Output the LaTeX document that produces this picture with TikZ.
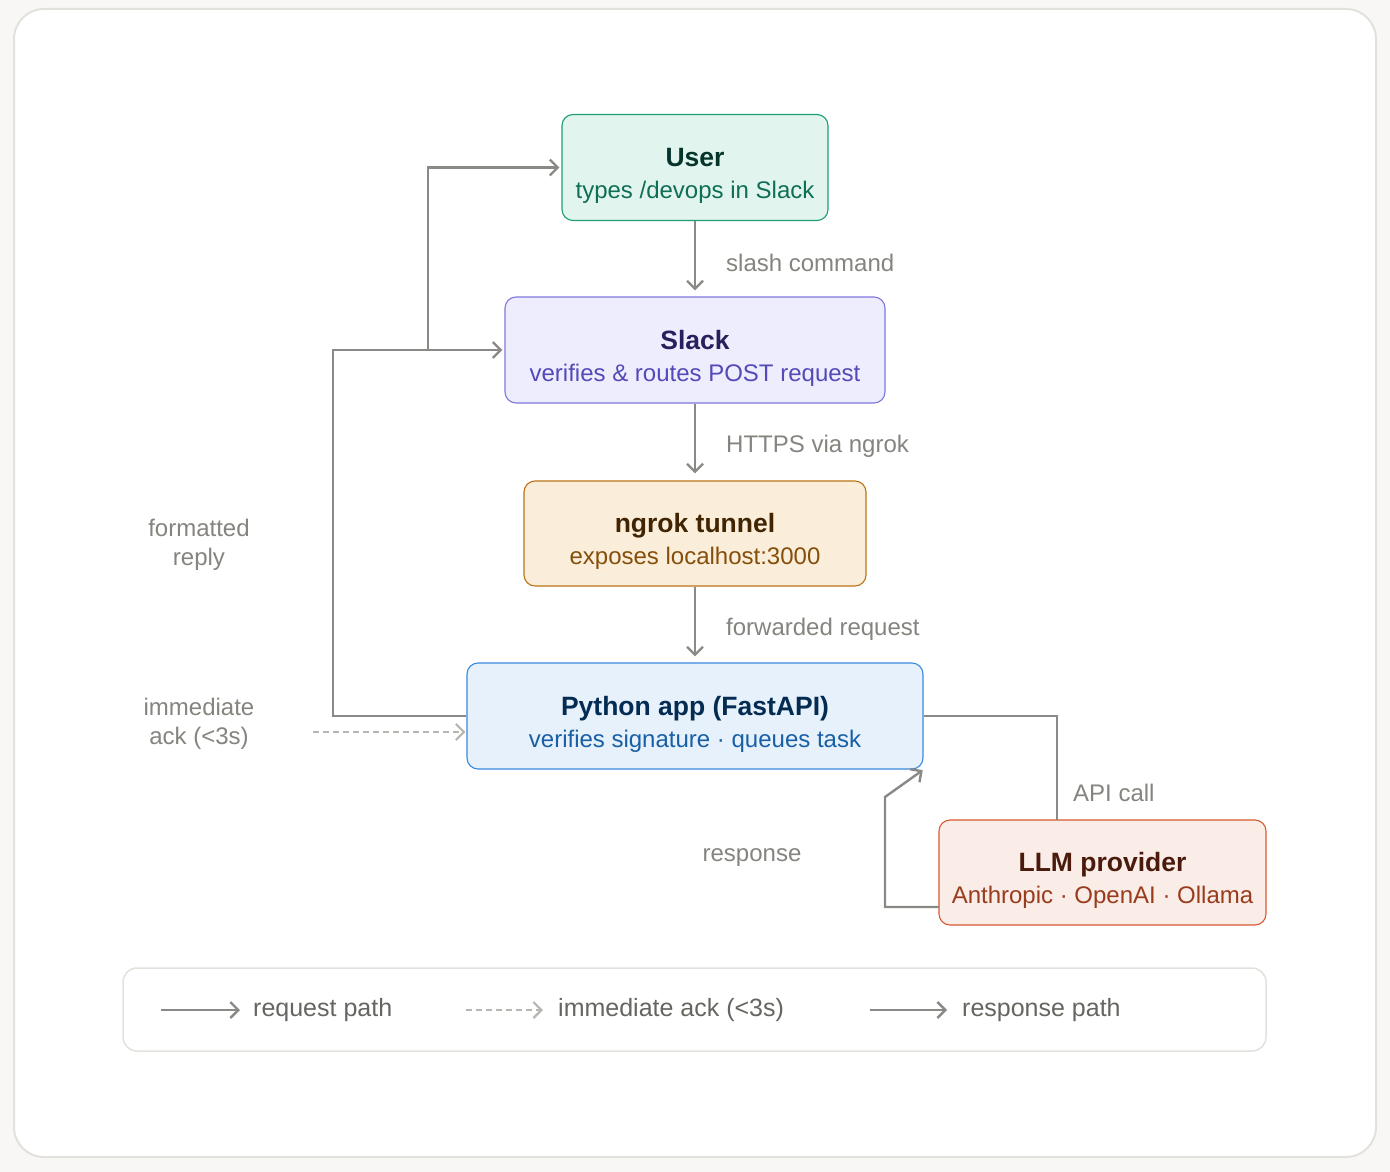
\documentclass[tikz,border=0pt]{standalone}
\usepackage{fontspec}
\setmainfont{Liberation Sans}
\usetikzlibrary{arrows.meta}
\definecolor{pagebg}{HTML}{F8F7F5}
\definecolor{frame}{HTML}{E3E1DC}
\definecolor{linegray}{HTML}{8A8985}
\definecolor{ackgray}{HTML}{B8B6B0}
\definecolor{lblgray}{HTML}{85847F}
\definecolor{leggray}{HTML}{66655F}
\definecolor{usfill}{HTML}{E1F5EE}\definecolor{usdraw}{HTML}{1D9E75}
\definecolor{ustitle}{HTML}{04342C}\definecolor{ussub}{HTML}{0F6E56}
\definecolor{slfill}{HTML}{EEEDFE}\definecolor{sldraw}{HTML}{7F77DD}
\definecolor{sltitle}{HTML}{26215C}\definecolor{slsub}{HTML}{534AB7}
\definecolor{ngfill}{HTML}{FAEEDA}\definecolor{ngdraw}{HTML}{BA7517}
\definecolor{ngtitle}{HTML}{412402}\definecolor{ngsub}{HTML}{854F0B}
\definecolor{pyfill}{HTML}{E6F1FB}\definecolor{pydraw}{HTML}{378ADD}
\definecolor{pytitle}{HTML}{042C53}\definecolor{pysub}{HTML}{185FA5}
\definecolor{llfill}{HTML}{FAECE7}\definecolor{lldraw}{HTML}{D85A30}
\definecolor{lltitle}{HTML}{4A1B0C}\definecolor{llsub}{HTML}{993C1D}
\newcommand\mytitlefont{\fontsize{26.5}{30}\selectfont\bfseries}
\newcommand\mysubfont{\fontsize{24}{28}\selectfont}
\newcommand\mylblfont{\fontsize{24}{29}\selectfont}
\newcommand\myleglfont{\fontsize{25}{29}\selectfont}
\begin{document}
\begin{tikzpicture}[x=1pt,y=-1pt,
  box/.style={rounded corners=11pt, line width=1.1pt, minimum width=#1, inner sep=0pt},
  ttl/.style={anchor=base, font=\mytitlefont, inner sep=0pt},
  sub/.style={anchor=base, font=\mysubfont, inner sep=0pt},
  lbl/.style={font=\mylblfont, text=lblgray, inner sep=0pt, align=center},
  leg/.style={font=\myleglfont, text=leggray, inner sep=0pt, anchor=west},
  req/.style={draw=linegray, line width=2.4pt, -{Straight Barb[length=8pt,width=16pt]}},
  plain/.style={draw=linegray, line width=2.4pt},
  ack/.style={draw=ackgray, line width=2.2pt, dash pattern=on 6pt off 4pt, -{Straight Barb[length=8pt,width=16pt]}}
]
\fill[pagebg] (0,0) rectangle (1390,1172);
\useasboundingbox (0,0) rectangle (1390,1172);
\draw[frame, fill=white, line width=2pt, rounded corners=30pt] (14,9) rectangle (1376,1157);

% boxes
\node[box=266pt, minimum height=106pt, fill=usfill, draw=usdraw] (us) at (695,167.5) {};
\node[ttl, text=ustitle] (ust) at ([yshift=1pt]us.center) {User};
\node[sub, text=ussub] (uss) at ([yshift=-31pt]us.center) {types /devops in Slack};

\node[box=380pt, minimum height=106pt, fill=slfill, draw=sldraw] (sl) at (695,350) {};
\node[ttl, text=sltitle] (slt) at ([yshift=1pt]sl.center) {Slack};
\node[sub, text=slsub] (sls) at ([yshift=-31pt]sl.center) {verifies \& routes POST request};

\node[box=342pt, minimum height=105pt, fill=ngfill, draw=ngdraw] (ng) at (695,533.5) {};
\node[ttl, text=ngtitle] (ngt) at ([yshift=1pt]ng.center) {ngrok tunnel};
\node[sub, text=ngsub] (ngs) at ([yshift=-31pt]ng.center) {exposes localhost:3000};

\node[box=456pt, minimum height=106pt, fill=pyfill, draw=pydraw] (py) at (695,716) {};
\node[ttl, text=pytitle] (pyt) at ([yshift=1pt]py.center) {Python app (FastAPI)};
\node[sub, text=pysub] (pys) at ([yshift=-31pt]py.center) {verifies signature · queues task};

\node[box=327pt, minimum height=105pt, fill=llfill, draw=lldraw] (ll) at (1102.5,872.5) {};
\node[ttl, text=lltitle] (llt) at ([yshift=1pt]ll.center) {LLM provider};
\node[sub, text=llsub] (lls) at ([yshift=-31pt]ll.center) {Anthropic · OpenAI · Ollama};

% request path
\draw[req, shorten >=6pt] (us.south) -- (sl.north);
\draw[req, shorten >=7pt] (sl.south) -- (ng.north);
\draw[req, shorten >=6pt] (ng.south) -- (py.north);
\node[lbl, anchor=west] (l1) at (726,263) {slash command};
\node[lbl, anchor=west] (l2) at (726,446) {HTTPS via ngrok};
\node[lbl, anchor=west] (l3) at (726,629) {forwarded request};

% reply path
\coordinate (jn) at (428,350);
\draw[req, shorten >=2pt] (py.west) -- (333,716) |- (sl.west);
\draw[req, shorten >=2pt] (jn) |- (us.west);
\node[lbl] (l4) at (199,545) {formatted\\reply};

% immediate ack
\coordinate (ackst) at (313,732);
\draw[ack, shorten >=1pt] (ackst) -- (ackst -| py.west);
\node[lbl] (l5) at (199,724) {immediate\\ack (<3s)};

% API call
\coordinate (apin) at (1057,820);
\draw[plain] (py.east) -| (apin);
\node[lbl, anchor=west] (l6) at (1073,793) {API call};

% response
\coordinate (rsst) at (939,907);
\draw[req, shorten >=1pt] (rsst) -- (885,907) -- (885,797) -- (py.south east);
\node[lbl] (l7) at (752,858) {response};

% legend
\draw[frame, fill=white, line width=1.5pt, rounded corners=14pt] (123,968) rectangle (1266,1051);
\coordinate (la1) at (161,1010); \coordinate (lb1) at (240,1010);
\coordinate (la2) at (466,1010); \coordinate (lb2) at (543,1010);
\coordinate (la3) at (870,1010); \coordinate (lb3) at (947,1010);
\draw[req] (la1) -- (lb1);
\draw[ack] (la2) -- (lb2);
\draw[req] (la3) -- (lb3);
\node[leg] (g1) at (253,1010) {request path};
\node[leg] (g2) at (558,1010) {immediate ack (<3s)};
\node[leg] (g3) at (962,1010) {response path};
\end{tikzpicture}
\end{document}
